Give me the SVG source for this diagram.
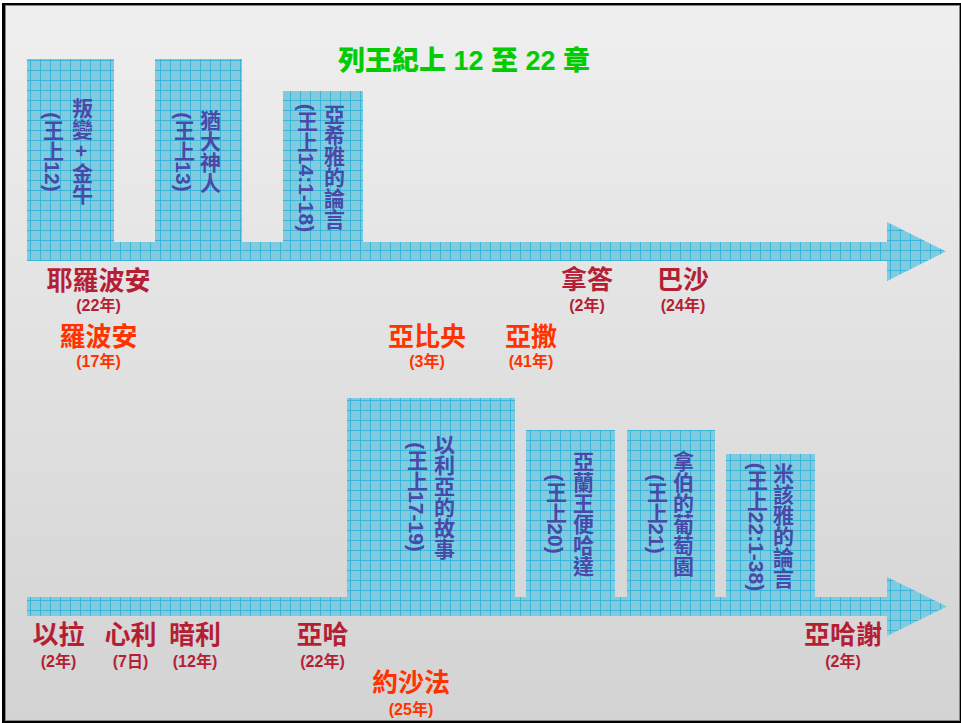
<svg xmlns="http://www.w3.org/2000/svg" width="961" height="723" viewBox="0 0 961 723">
<defs>
<linearGradient id="bg" x1="0" y1="0" x2="0" y2="1">
<stop offset="0" stop-color="#efefef"/>
<stop offset="1" stop-color="#d3d3d3"/>
</linearGradient>
<pattern id="grid" x="0" y="0" width="10" height="10" patternUnits="userSpaceOnUse">
<rect width="10" height="10" fill="#82cbdf"/>
<path d="M0 0.5H10M0.5 0V10" stroke="#2fb3da" stroke-width="1" fill="none" opacity="0.85"/>
</pattern>
<style>
.box{fill:url(#grid)}
.vt{writing-mode:vertical-rl;font-family:"Liberation Sans","Noto Sans CJK TC",sans-serif;font-size:21px;font-weight:700;fill:#4a48a8;text-anchor:middle}
.nm{font-family:"Noto Sans CJK TC",sans-serif;font-size:26px;font-weight:700;text-anchor:middle}
.yr{font-family:"Liberation Sans","Noto Sans CJK TC",sans-serif;font-size:16px;font-weight:700;text-anchor:middle}
.n{fill:#b51f36}
.j{fill:#ff3300}
.title{font-family:"Liberation Sans","Noto Sans CJK TC",sans-serif;font-size:27px;font-weight:900;fill:#00cc00;text-anchor:middle}
</style>
</defs>
<rect x="0" y="0" width="961" height="723" fill="#ffffff"/>
<rect x="2" y="3" width="959" height="720" fill="#000000"/>
<rect x="5.5" y="5.5" width="954" height="715" fill="url(#bg)" stroke="#888888" stroke-width="1"/>

<text id="title" class="title" x="464" y="70">列王紀上 12 至 22 章</text>

<g id="connectors">
<polygon class="box" points="27,242 887,242 887,222 946,251.5 887,281 887,261 27,261"/>
<polygon class="box" points="27,597 887,597 887,577 947,606.5 887,636 887,616 27,616"/>
</g>

<g id="box-rebellion">
<rect class="box" x="27" y="59" width="87" height="183"/>
<text class="vt" x="81" y="151">叛變 + 金牛</text>
<text class="vt" x="52" y="152">(王上12)</text>
</g>
<g id="box-man-of-god">
<rect class="box" x="155" y="59" width="87" height="183"/>
<text class="vt" x="209" y="152">猶大神人</text>
<text class="vt" x="183" y="152">(王上13)</text>
</g>
<g id="box-ahijah">
<rect class="box" x="283" y="91" width="80" height="151"/>
<text class="vt" x="333" y="167">亞希雅的論言</text>
<text class="vt" x="306" y="168">(王上14:1-18)</text>
</g>
<g id="box-elijah">
<rect class="box" x="347" y="398" width="168" height="199"/>
<text class="vt" x="443" y="497">以利亞的故事</text>
<text class="vt" x="416" y="497">(王上17-19)</text>
</g>
<g id="box-benhadad">
<rect class="box" x="526" y="430" width="89" height="167"/>
<text class="vt" x="582" y="514">亞蘭王便哈達</text>
<text class="vt" x="555" y="514">(王上20)</text>
</g>
<g id="box-naboth">
<rect class="box" x="627" y="430" width="88" height="167"/>
<text class="vt" x="682" y="514">拿伯的葡萄園</text>
<text class="vt" x="656" y="514">(王上21)</text>
</g>
<g id="box-micaiah">
<rect class="box" x="726" y="454" width="89" height="143"/>
<text class="vt" x="782" y="526">米該雅的論言</text>
<text class="vt" x="756" y="527">(王上22:1-38)</text>
</g>

<g id="king-jeroboam"><text class="nm n" x="98.5" y="290">耶羅波安</text><text class="yr n" x="98.5" y="311">(22年)</text></g>
<g id="king-rehoboam"><text class="nm j" x="98.5" y="346">羅波安</text><text class="yr j" x="98.5" y="367">(17年)</text></g>
<g id="king-abijam"><text class="nm j" x="427" y="346">亞比央</text><text class="yr j" x="427" y="367">(3年)</text></g>
<g id="king-asa"><text class="nm j" x="531" y="346">亞撒</text><text class="yr j" x="531" y="367">(41年)</text></g>
<g id="king-nadab"><text class="nm n" x="587" y="289">拿答</text><text class="yr n" x="587" y="311">(2年)</text></g>
<g id="king-baasha"><text class="nm n" x="683" y="289">巴沙</text><text class="yr n" x="683" y="311">(24年)</text></g>
<g id="king-elah"><text class="nm n" x="58.5" y="644">以拉</text><text class="yr n" x="58.5" y="667">(2年)</text></g>
<g id="king-zimri"><text class="nm n" x="130.5" y="644">心利</text><text class="yr n" x="130.5" y="667">(7日)</text></g>
<g id="king-omri"><text class="nm n" x="195" y="644">暗利</text><text class="yr n" x="195" y="667">(12年)</text></g>
<g id="king-ahab"><text class="nm n" x="322.5" y="644">亞哈</text><text class="yr n" x="322.5" y="667">(22年)</text></g>
<g id="king-jehoshaphat"><text class="nm j" x="411" y="692">約沙法</text><text class="yr j" x="411" y="715">(25年)</text></g>
<g id="king-ahaziah"><text class="nm n" x="843" y="644">亞哈謝</text><text class="yr n" x="843" y="667">(2年)</text></g>
</svg>
